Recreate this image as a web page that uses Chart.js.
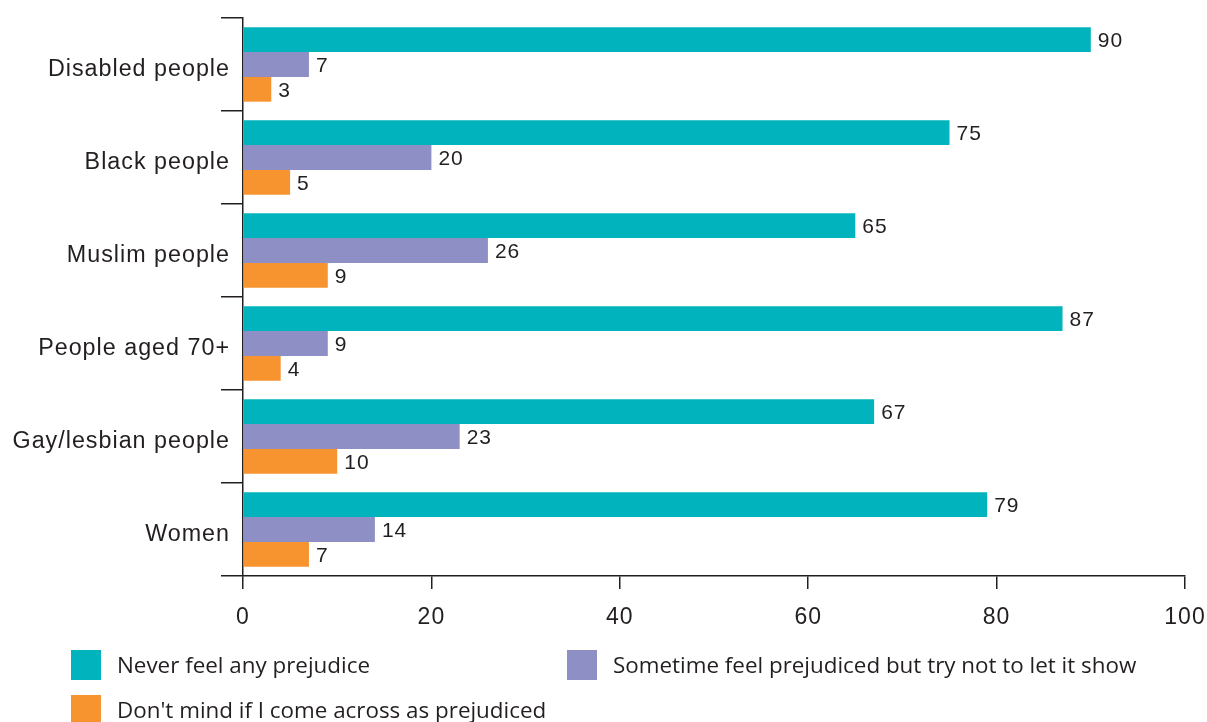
<!DOCTYPE html>
<html>
<head>
<meta charset="utf-8">
<title>Prejudice by group</title>
<script src="https://cdn.jsdelivr.net/npm/chart.js@4.4.1/dist/chart.umd.min.js"></script>
<style>
  html, body { margin: 0; padding: 0; background: #ffffff; }
  #wrap { position: relative; width: 1207px; height: 722px; overflow: hidden; }
  #chart { position: absolute; left: 0; top: 0; }
  .legend-item { position: absolute; height: 30px; white-space: nowrap; }
  .legend-item .swatch { position: absolute; left: 0; top: 0; width: 30px; height: 30px; }
  .legend-item .text {
    position: absolute; left: 46px; top: 0; line-height: 30px;
    font-family: "Open Sans", "Noto Sans", sans-serif; font-size: 22.4px; color: #231f20;
  }
</style>
</head>
<body>
<div id="wrap">
  <canvas id="chart" width="1207" height="722"></canvas>
  <div id="legend"></div>
</div>
<script>
// Groups shown on the vertical axis
const categories = ['Disabled people', 'Black people', 'Muslim people', 'People aged 70+', 'Gay/lesbian people', 'Women'];

// Share of respondents (%) for each answer
const neverValues = [90, 75, 65, 87, 67, 79];
const sometimeValues = [7, 20, 26, 9, 23, 14];
const dontMindValues = [3, 5, 9, 4, 10, 7];

const seriesNames = [
  'Never feel any prejudice',
  'Sometime feel prejudiced but try not to let it show',
  "Don't mind if I come across as prejudiced"
];
const seriesColors = ['#00b3bc', '#8d8fc5', '#f7942f'];

// Horizontal axis ticks
const xTicks = [0, 20, 40, 60, 80, 100];

const ink = '#231f20';

// Writes each bar's value just past its end
const valueLabels = {
  id: 'valueLabels',
  afterDatasetsDraw(chart) {
    const ctx = chart.ctx;
    ctx.save();
    ctx.font = '21px "Liberation Sans", Arial, sans-serif';
    ctx.fillStyle = ink;
    ctx.textAlign = 'left';
    ctx.textBaseline = 'middle';
    chart.data.datasets.forEach((ds, i) => {
      chart.getDatasetMeta(i).data.forEach((bar, j) => {
        ctx.fillText(String(ds.data[j]), bar.x + 7, bar.y + 1.5);
      });
    });
    ctx.restore();
  }
};

// Slightly tracked lettering for all canvas text
const tracking = {
  id: 'tracking',
  beforeDraw(chart) { chart.ctx.letterSpacing = '1px'; }
};

new Chart(document.getElementById('chart'), {
  type: 'bar',
  data: {
    labels: categories,
    datasets: [
      { label: seriesNames[0], data: neverValues, backgroundColor: seriesColors[0] },
      { label: seriesNames[1], data: sometimeValues, backgroundColor: seriesColors[1] },
      { label: seriesNames[2], data: dontMindValues, backgroundColor: seriesColors[2] }
    ]
  },
  options: {
    indexAxis: 'y',
    responsive: false,
    animation: false,
    devicePixelRatio: 1,
    categoryPercentage: 0.8,
    barPercentage: 1.0,
    layout: { padding: { top: 18, right: 22, left: 0, bottom: 0 } },
    plugins: {
      legend: { display: false },
      tooltip: { enabled: false }
    },
    scales: {
      y: {
        type: 'category',
        grid: {
          offset: true, drawOnChartArea: false, drawTicks: true,
          tickLength: 22, color: ink, lineWidth: 1.5
        },
        border: { display: true, color: ink, width: 1.5 },
        ticks: {
          color: ink, padding: -9, labelOffset: 5,
          font: { family: '"Liberation Sans", Arial, sans-serif', size: 23.3 }
        },
        afterFit(scale) {
          scale.width = 243;
          scale.paddingTop = 0;
          scale.paddingBottom = 0;
        }
      },
      x: {
        type: 'linear',
        min: xTicks[0],
        max: xTicks[xTicks.length - 1],
        afterBuildTicks(scale) { scale.ticks = xTicks.map(v => ({ value: v })); },
        grid: {
          drawOnChartArea: false, drawTicks: true,
          tickLength: 13, color: ink, lineWidth: 1.5
        },
        border: { display: true, color: ink, width: 1.5 },
        ticks: {
          color: ink, padding: 15, maxRotation: 0,
          font: { family: '"Liberation Sans", Arial, sans-serif', size: 23 }
        },
        afterFit(scale) {
          scale.height = 146;
          scale.paddingLeft = 0;
          scale.paddingRight = 0;
        }
      }
    }
  },
  plugins: [tracking, valueLabels]
});

// Legend: two columns, wrapping to a second row
const legendSlots = [
  { left: 71, top: 650 },
  { left: 567, top: 650 },
  { left: 71, top: 695 }
];
const legend = document.getElementById('legend');
seriesNames.forEach((name, i) => {
  const item = document.createElement('div');
  item.className = 'legend-item';
  item.style.left = legendSlots[i].left + 'px';
  item.style.top = legendSlots[i].top + 'px';
  const sw = document.createElement('span');
  sw.className = 'swatch';
  sw.style.background = seriesColors[i];
  const tx = document.createElement('span');
  tx.className = 'text';
  tx.textContent = name;
  item.appendChild(sw);
  item.appendChild(tx);
  legend.appendChild(item);
});
</script>
</body>
</html>
